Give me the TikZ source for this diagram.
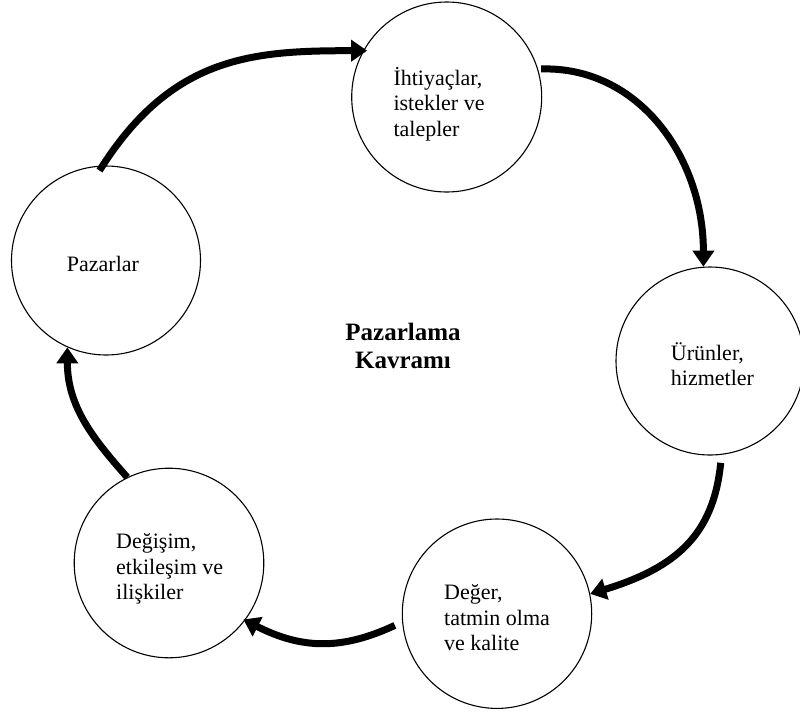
\documentclass[tikz,border=0pt]{standalone}
\usepackage{fontspec}
\setmainfont{Liberation Serif}
\usetikzlibrary{arrows.meta}
\begin{document}
\begin{tikzpicture}[x=1pt,y=-1pt,
  concept/.style={circle, draw, line width=1.1pt, inner sep=0pt, minimum size=#1},
  ctext/.style={anchor=base west, inner sep=0pt, font=\fontsize{22}{25.8}\selectfont},
  cycleArrow/.style={line width=7pt, -{Triangle[length=16pt,width=21pt]}},
]
\useasboundingbox (0,0) rectangle (800,713);

% the five concept circles
\node[concept=190pt] (T) at (446.7,97) {};
\node[concept=189pt] (P) at (106,260.5) {};
\node[concept=188pt] (U) at (710,361) {};
\node[concept=189.4pt] (D) at (497,613.7) {};
\node[concept=189.6pt] (E) at (169,563) {};

% circle texts
\node[ctext] (tT) at (393.3,85) {\begin{tabular}[t]{@{}l@{}}İhtiyaçlar,\\istekler ve\\talepler\end{tabular}};
\node[ctext] (tP) at (66.7,271.7) {Pazarlar};
\node[ctext] (tU) at (670.7,360) {\begin{tabular}[t]{@{}l@{}}Ürünler,\\hizmetler\end{tabular}};
\node[ctext] (tD) at (444,599.3) {\begin{tabular}[t]{@{}l@{}}Değer,\\tatmin olma\\ve kalite\end{tabular}};
\node[ctext] (tE) at (116,548.3) {\begin{tabular}[t]{@{}l@{}}Değişim,\\etkileşim ve\\ilişkiler\end{tabular}};

% central title
\node[anchor=base, inner sep=0pt, font=\fontsize{25}{28.3}\selectfont\bfseries] (title) at (403,340)
  {\begin{tabular}[t]{@{}c@{}}Pazarlama\\Kavramı\end{tabular}};

% the cycle of arrows
\draw[cycleArrow, shorten <=-6pt, shorten >=-4pt] (P.92) .. controls +(68.9,-110.2) and +(-110,0) .. (T.151);
\draw[cycleArrow, shorten <=3pt] (T.17) .. controls +(100,-3) and +(0,-110) .. (U.94);
\draw[cycleArrow, shorten <=8pt] (U.277) .. controls +(-8,80) and +(86,-26.3) .. (D.12);
\draw[cycleArrow, shorten <=8pt, shorten >=-2pt] (D.185) .. controls +(-58.9,27.5) and +(57.9,29.5) .. (E.323);
\draw[cycleArrow] (E.116) .. controls +(-33,-37.5) and +(0,60) .. (P.246);
\end{tikzpicture}
\end{document}
